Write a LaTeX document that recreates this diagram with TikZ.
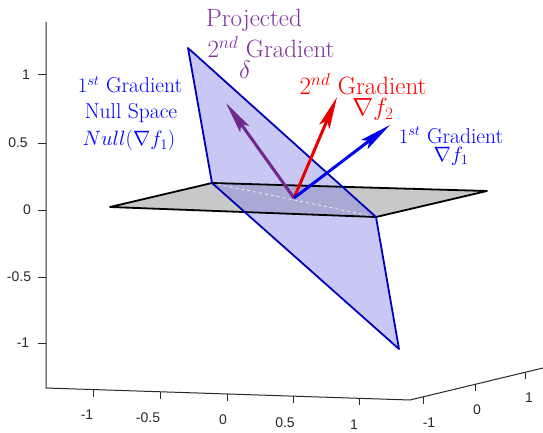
\documentclass[tikz,border=0pt]{standalone}
\usepackage{fontspec}
\newfontfamily\axfont{Liberation Sans}
\usetikzlibrary{arrows.meta}
\definecolor{pplt}{RGB}{128,50,150}
\definecolor{ppla}{RGB}{112,40,140}
\definecolor{redt}{RGB}{255,0,0}
\definecolor{reda}{RGB}{232,0,0}
\definecolor{bluet}{RGB}{0,0,255}
\definecolor{bluea}{RGB}{0,0,235}
\definecolor{edgeb}{RGB}{0,0,185}
\definecolor{planeb}{RGB}{133,133,233}
\definecolor{planeg}{RGB}{200,200,200}
\definecolor{axc}{RGB}{40,40,40}
\tikzset{
  axline/.style={draw=axc, line width=1pt},
  tick/.style={draw=axc, line width=1pt},
  ticklab/.style={text=axc, font=\axfont\fontsize{14}{16}\selectfont, inner sep=0pt},
  bigtxt/.style={font=\fontsize{25}{28}\selectfont, inner sep=0pt, anchor=base},
  midtxt/.style={font=\fontsize{21.5}{25}\selectfont, inner sep=0pt, anchor=base},
  vec/.style={line width=3pt, -{Stealth[length=32pt,width=11pt,inset=6pt]}},
}
\begin{document}
\begin{tikzpicture}[x=1pt,y=-1pt]
\useasboundingbox (0,0) rectangle (543,433);
% axes
\coordinate (zt) at (46,22);
\coordinate (o0) at (46,388);
\coordinate (o1) at (410,400);
\coordinate (o2) at (543,368);
\draw[axline] (zt) -- (o0) -- (o1) -- (o2);
% vertical ticks
\foreach \yy/\lab/\lx in {75/1/26, 143/0.5/18, 210/0/27, 277/-0.5/19, 343/-1/23}{
  \draw[tick] (38,\yy) -- (46,\yy);
  \node[ticklab] (zl\lab) at (\lx,\yy) {\lab};
}
% bottom ticks
\foreach \xx/\yy/\lab/\lx/\ly in {93/389.5/-1/87/415, 160/391.8/-0.5/148/418, 227/394/0/223/420, 293/396.1/0.5/285/423, 359/398.3/1/354/425}{
  \draw[tick] (\xx,\yy) -- (\xx,\yy+7);
  \node[ticklab] (xl\lab) at (\lx,\ly) {\lab};
}
% right ticks
\foreach \xx/\yy/\lab/\lx/\ly in {423/396.9/-1/429/423, 475/384.4/0/477/410, 525/372.3/1/529/398}{
  \draw[tick] (\xx,\yy) -- (\xx,\yy+7);
  \node[ticklab] (yl\lab) at (\lx,\ly) {\lab};
}
% planes
\coordinate (g1) at (110,207);
\coordinate (g2) at (212,183);
\coordinate (g3) at (487,191);
\coordinate (g4) at (376,217);
\coordinate (b1) at (188,48);
\coordinate (b3) at (399,349);
\fill[planeg] (g1) -- (g2) -- (g3) -- (g4) -- cycle;
\fill[planeb, opacity=0.45] (b1) -- (g4) -- (b3) -- (g2) -- cycle;
\draw[white, dashed, line width=0.6pt] (g2) -- (g4);
\draw[black, line width=1.8pt, line join=round] (g1) -- (g2) -- (g3) -- (g4) -- cycle;
\draw[edgeb, line width=1.8pt, line join=round] (b1) -- (g4) -- (b3) -- (g2) -- cycle;
% vectors
\coordinate (O) at (294,198);
\coordinate (pt) at (226,103);
\coordinate (rt) at (337,97);
\coordinate (bt) at (390,125);
\draw[vec, ppla] (O) -- (pt);
\draw[vec, reda] (O) -- (rt);
\draw[vec, bluea] (O) -- (bt);
% labels
\node[bigtxt, text=pplt] (p1) at (254,27) {Projected};
\node[bigtxt, text=pplt] (p2) at (271,58) {$2^{nd}$ Gradient};
\node[bigtxt, text=pplt] (p3) at (245,79) {$\delta$};
\node[midtxt, text=bluet] (n1) at (130,93) {$1^{st}$ Gradient};
\node[midtxt, text=bluet] (n2) at (131,119) {Null Space};
\node[midtxt, text=bluet] (n3) at (129,146) {$Null(\nabla f_1)$};
\node[bigtxt, text=redt] (r1) at (363,95) {$2^{nd}$ Gradient};
\node[bigtxt, text=redt] (r2) at (373,116) {$\nabla f_2$};
\node[midtxt, text=bluet] (f1) at (451,143) {$1^{st}$ Gradient};
\node[midtxt, text=bluet] (f2) at (451,161) {$\nabla f_1$};
\end{tikzpicture}
\end{document}
